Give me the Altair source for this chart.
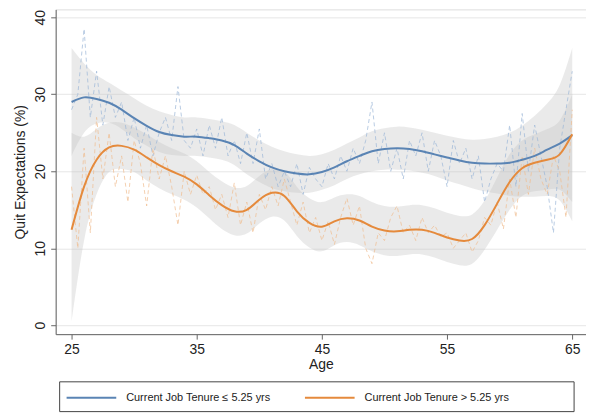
import altair as alt
import pandas as pd
import numpy as np

G1 = "Current Job Tenure ≤ 5.25 yrs"
G2 = "Current Job Tenure > 5.25 yrs"

# yearly smoothed values (ages 25..65)
ages_y = list(range(25, 66))
blue_fit = [29.0, 29.6, 29.4, 28.9, 28.0, 26.9, 25.9, 25.1, 24.7, 24.5, 24.5, 24.3, 24.0, 23.4, 22.3,
            21.3, 20.5, 20.0, 19.7, 19.6, 19.9, 20.5, 21.3, 22.0, 22.6, 22.9, 23.0, 22.9, 22.6, 22.2,
            21.8, 21.4, 21.1, 21.0, 21.0, 21.1, 21.5, 22.0, 22.8, 23.6, 24.7]
blue_hi = [36.0, 34.0, 32.5, 31.5, 30.5, 29.5, 28.5, 27.8, 27.3, 27.0, 27.0, 26.8, 26.5, 26.0, 25.0,
           24.0, 23.2, 22.6, 22.2, 22.0, 22.2, 22.8, 23.6, 24.4, 25.2, 25.6, 25.8, 25.7, 25.4, 25.0,
           24.6, 24.3, 24.1, 24.2, 24.5, 25.0, 25.9, 27.2, 28.8, 31.2, 36.0]
blue_lo = [22.0, 25.0, 26.2, 26.3, 25.5, 24.3, 23.3, 22.5, 22.1, 22.0, 22.0, 21.8, 21.5, 20.8, 19.6,
           18.6, 17.8, 17.4, 17.2, 17.2, 17.6, 18.2, 19.0, 19.6, 20.0, 20.2, 20.2, 20.1, 19.8, 19.4,
           18.8, 18.3, 17.8, 17.4, 17.1, 16.8, 16.7, 16.7, 16.8, 16.2, 13.5]
orange_fit = [12.4, 18.0, 21.5, 23.1, 23.3, 22.8, 21.8, 20.8, 20.0, 19.3, 18.3, 16.9, 15.6, 14.8, 15.0,
              16.3, 17.2, 16.8, 14.8, 13.3, 12.8, 13.5, 13.9, 13.6, 12.8, 12.3, 12.2, 12.4, 12.4, 12.0,
              11.4, 11.0, 11.2, 13.0, 15.8, 18.6, 20.4, 21.1, 21.5, 22.2, 24.8]
orange_hi = [25.0, 24.5, 25.5, 26.3, 26.3, 25.7, 24.8, 23.8, 23.0, 22.3, 21.3, 19.9, 18.7, 17.9, 18.1,
             19.4, 20.3, 20.0, 18.0, 16.5, 16.0, 16.6, 17.0, 16.8, 16.0, 15.5, 15.4, 15.6, 15.6, 15.2,
             14.6, 14.2, 14.4, 16.2, 19.2, 22.2, 24.0, 24.8, 25.5, 26.6, 30.0]
orange_lo = [0.5, 11.0, 17.0, 19.9, 20.3, 19.9, 18.8, 17.8, 17.0, 16.3, 15.3, 13.9, 12.5, 11.7, 11.9,
             13.2, 14.1, 13.6, 11.6, 10.1, 9.6, 10.4, 10.8, 10.4, 9.6, 9.1, 9.0, 9.2, 9.2, 8.8,
             8.2, 7.8, 8.0, 9.8, 12.4, 15.0, 16.8, 17.4, 17.6, 17.6, 16.0]

# raw (half-year) values, ages 25..65
ages_h = [25 + 0.5 * i for i in range(81)]
blue_raw = [28, 30, 38.5, 27, 33, 26, 31, 27, 29, 24, 27, 23, 26, 22, 25, 27, 24, 31, 24, 23,
            25.5, 22, 26, 23, 27, 22, 24, 21, 25, 21, 25.5, 19, 21, 18, 20, 18, 21, 17, 20.5, 19,
            18, 21, 19, 22, 20, 23, 21, 24, 29, 21, 25, 20, 23, 19, 24, 22, 25, 20, 24, 22,
            18, 24, 21, 23, 19, 22, 16, 19, 21, 20, 26, 18, 27.5, 20, 26, 22, 18, 12, 23, 28, 33]
orange_raw = [18, 10, 23, 12, 27, 19, 25, 18, 22, 16, 24, 21, 15.5, 23, 19, 22, 18, 13, 20, 17,
              19.5, 17, 18, 15, 17, 14, 18.5, 13, 16, 12, 17, 15, 18, 15.5, 19, 16, 13, 16, 12, 14,
              11, 13.5, 10.5, 14, 16.5, 13, 15.5, 10, 8, 12, 11, 14, 15.5, 12, 13, 11, 14, 12, 13, 11.5,
              12, 10, 11, 12, 9.5, 11, 14, 13, 16, 12.5, 19, 14, 22, 17, 23, 19, 17, 22, 20, 14, 28]

fit = pd.DataFrame({
    "age": ages_y * 2,
    "fit": blue_fit + orange_fit,
    "lo": blue_lo + orange_lo,
    "hi": blue_hi + orange_hi,
    "group": [G1] * len(ages_y) + [G2] * len(ages_y),
})
raw = pd.DataFrame({
    "age": ages_h * 2,
    "val": blue_raw + orange_raw,
    "group": [G1] * len(ages_h) + [G2] * len(ages_h),
})

BLUE = "#5a84b4"
ORANGE = "#e58a3c"
FONT = "Liberation Sans"

xs = alt.Scale(domain=[23.73, 66.1], nice=False, zero=False)
ys = alt.Scale(domain=[-1.16, 41.03], nice=False, zero=False)

xax = alt.Axis(values=[25, 35, 45, 55, 65], title="Age", grid=False, labelFontSize=14,
               titleFontSize=14, titleFontWeight="normal", tickSize=5, labelPadding=3,
               titlePadding=2, domainColor="#666", tickColor="#666", labelColor="#222",
               titleColor="#222", labelFont=FONT, titleFont=FONT)
yax = alt.Axis(values=[0, 10, 20, 30, 40], title="Quit Expectations (%)", grid=True,
               gridColor="#e6e6e6", labelFontSize=14, titleFontSize=14, titleFontWeight="normal",
               labelAngle=270, labelAlign="center", labelBaseline="bottom", tickSize=5,
               labelPadding=3, titlePadding=6, domainColor="#666", tickColor="#666",
               labelColor="#222", titleColor="#222", labelFont=FONT, titleFont=FONT)

base_fit = alt.Chart(fit)

bands = base_fit.mark_area(color="#c4c4c4", opacity=0.35, interpolate="natural").encode(
    x=alt.X("age:Q", scale=xs, axis=xax),
    y=alt.Y("lo:Q", scale=ys, axis=yax),
    y2="hi:Q",
    detail="group:N",
)

raw_b = alt.Chart(raw).transform_filter(alt.datum.group == G1).mark_line(
    color="#9db7d8", strokeWidth=0.9, strokeDash=[4, 3], opacity=0.8).encode(
    x=alt.X("age:Q", scale=xs), y=alt.Y("val:Q", scale=ys))
raw_o = alt.Chart(raw).transform_filter(alt.datum.group == G2).mark_line(
    color="#f0bd90", strokeWidth=0.9, strokeDash=[4, 3], opacity=0.8).encode(
    x=alt.X("age:Q", scale=xs), y=alt.Y("val:Q", scale=ys))

lines = base_fit.mark_line(strokeWidth=2, interpolate="natural").encode(
    x=alt.X("age:Q", scale=xs),
    y=alt.Y("fit:Q", scale=ys),
    color=alt.Color("group:N",
                    scale=alt.Scale(domain=[G1, G2], range=[BLUE, ORANGE]),
                    sort=[G1, G2],
                    legend=alt.Legend(orient="none", legendX=10, legendY=365, direction="horizontal",
                                      columns=2, columnPadding=30, title=None,
                                      symbolType="stroke", symbolSize=2500, symbolStrokeWidth=2,
                                      labelOffset=9, labelFontSize=11, labelFont=FONT,
                                      labelColor="#222", padding=0)),
)

frame = alt.Chart(pd.DataFrame({"k": [0]})).mark_rect(fill=None, stroke="#444", strokeWidth=1).encode(
    x=alt.value(4), x2=alt.value(522), y=alt.value(375), y2=alt.value(405))

chart = alt.layer(bands, raw_b, raw_o, lines, frame).properties(
    width=534, height=327,
    autosize=alt.AutoSizeParams(type="none"),
    padding={"left": 48, "top": 0, "right": 0, "bottom": 80},
).configure_view(stroke=None).configure(background="white")

chart.save("out.html", embed_options={"renderer": "svg", "actions": False})
